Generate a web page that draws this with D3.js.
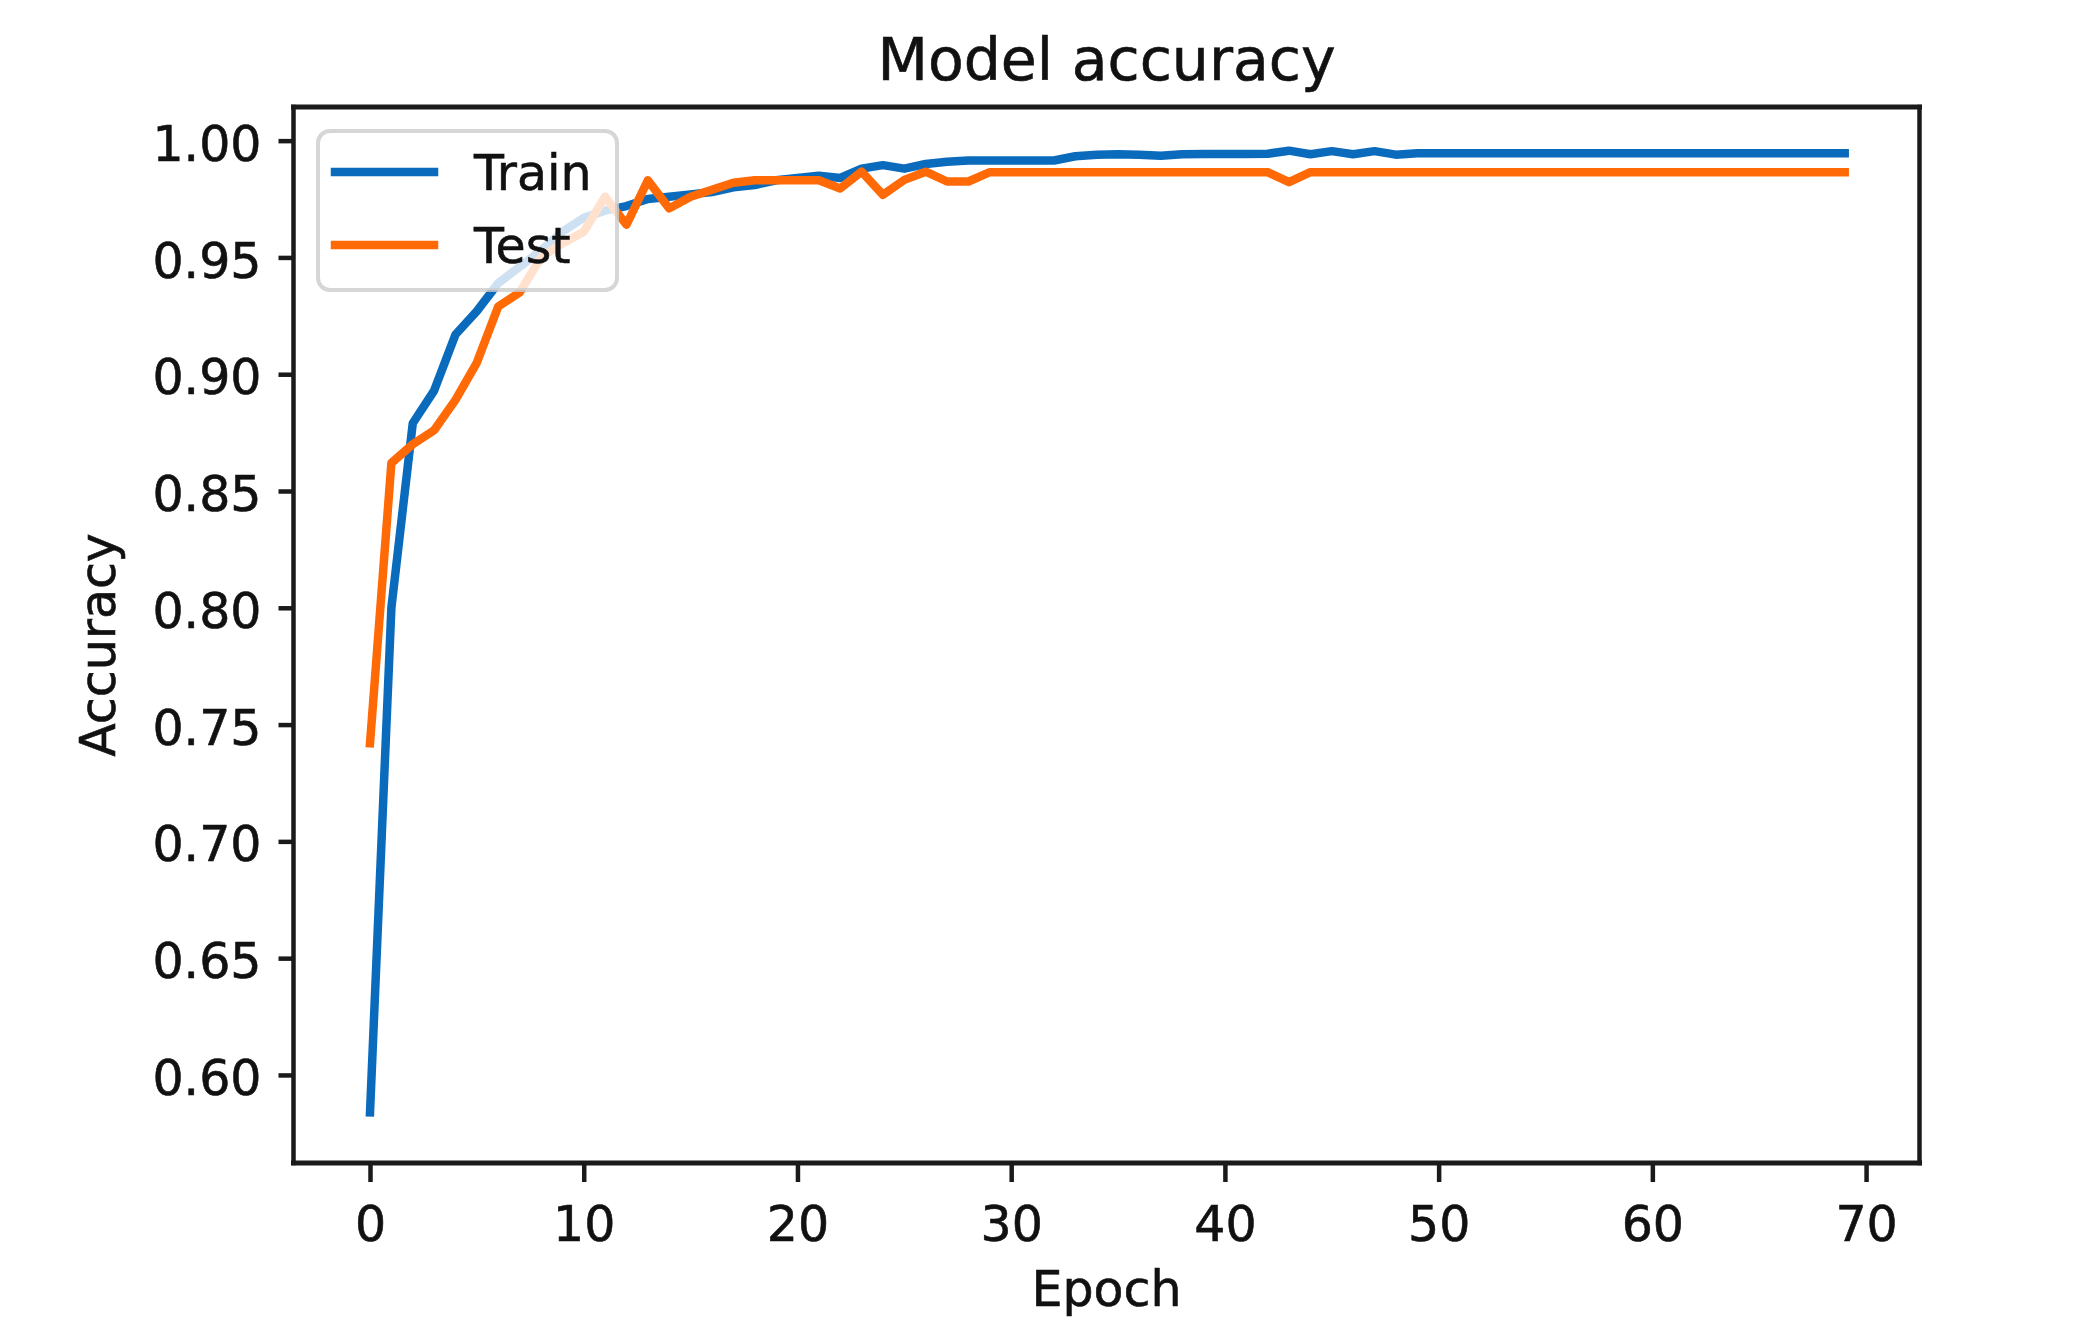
<!DOCTYPE html>
<html>
<head>
<meta charset="utf-8">
<title>Model accuracy</title>
<script src="https://cdn.jsdelivr.net/npm/d3@7"></script>
<style>
    html, body { margin: 0; padding: 0; background: #ffffff; }
    svg { display: block; }
    text { font-family: "DejaVu Sans", sans-serif; fill: #111111; stroke: #111111; stroke-width: 0.6px; }
</style>
</head>
<body>
<svg id="chart" width="2073" height="1344"></svg>
<script>
// Accuracy per epoch (epoch = array index)
const trainAcc = [
    0.584, 0.800, 0.879, 0.893, 0.917, 0.927, 0.939, 0.946, 0.953, 0.961,
    0.967, 0.970, 0.972, 0.975, 0.976, 0.977, 0.978, 0.980, 0.981, 0.983,
    0.984, 0.985, 0.984, 0.988, 0.9895, 0.988, 0.990, 0.991, 0.9915, 0.9915,
    0.9915, 0.9915, 0.9915, 0.9933, 0.9940, 0.9942, 0.9940, 0.9935, 0.9942, 0.9943,
    0.9943, 0.9943, 0.9944, 0.9957, 0.9942, 0.9955, 0.9942, 0.9955, 0.9940, 0.9946,
    0.9946, 0.9946, 0.9946, 0.9946, 0.9946, 0.9946, 0.9946, 0.9946, 0.9946, 0.9946,
    0.9946, 0.9946, 0.9946, 0.9946, 0.9946, 0.9946, 0.9946, 0.9946, 0.9946, 0.9946
];
const testAcc = [
    0.742, 0.862, 0.870, 0.876, 0.889, 0.905, 0.929, 0.935, 0.950, 0.956,
    0.961, 0.976, 0.964, 0.983, 0.971, 0.976, 0.979, 0.982, 0.983, 0.983,
    0.983, 0.983, 0.9795, 0.9867, 0.9768, 0.9832, 0.9867, 0.9825, 0.9825, 0.9865,
    0.9865, 0.9865, 0.9865, 0.9865, 0.9865, 0.9865, 0.9865, 0.9865, 0.9865, 0.9865,
    0.9865, 0.9865, 0.9865, 0.9822, 0.9865, 0.9865, 0.9865, 0.9865, 0.9865, 0.9865,
    0.9865, 0.9865, 0.9865, 0.9865, 0.9865, 0.9865, 0.9865, 0.9865, 0.9865, 0.9865,
    0.9865, 0.9865, 0.9865, 0.9865, 0.9865, 0.9865, 0.9865, 0.9865, 0.9865, 0.9865
];
const seriesNames = ['Train', 'Test'];
const xTicks = [0, 10, 20, 30, 40, 50, 60, 70];
const yTicks = [0.60, 0.65, 0.70, 0.75, 0.80, 0.85, 0.90, 0.95, 1.00];
const xDomain = [-3.58, 72.5];
const yDomain = [0.5623, 1.0144];

(function() {
    'use strict';

    const plot = { left: 293.5, right: 1919.5, top: 107, bottom: 1163 };
    const colors = { 'Train': '#0a6bbd', 'Test': '#ff6a06' };
    const fontSize = 49;

    const svg = d3.select('#chart');

    const x = d3.scaleLinear().domain(xDomain).range([plot.left, plot.right]);
    const y = d3.scaleLinear().domain(yDomain).range([plot.bottom, plot.top]);

    svg.append('defs').append('clipPath')
        .attr('id', 'plot-clip')
        .append('rect')
        .attr('x', plot.left)
        .attr('y', plot.top)
        .attr('width', plot.right - plot.left)
        .attr('height', plot.bottom - plot.top);

    // Lines
    const line = d3.line()
        .x((d, i) => x(i))
        .y(d => y(d));

    const series = [
        { name: seriesNames[0], values: trainAcc },
        { name: seriesNames[1], values: testAcc }
    ];

    svg.append('g')
        .attr('clip-path', 'url(#plot-clip)')
        .selectAll('path')
        .data(series)
        .enter()
        .append('path')
        .attr('d', d => line(d.values))
        .attr('fill', 'none')
        .attr('stroke', d => colors[d.name])
        .attr('stroke-width', 8.5)
        .attr('stroke-linejoin', 'round')
        .attr('stroke-linecap', 'square');

    // X axis
    const xAxis = svg.append('g')
        .attr('transform', `translate(0,${plot.bottom})`)
        .call(d3.axisBottom(x).tickValues(xTicks).tickSize(19).tickSizeOuter(0).tickPadding(24));
    xAxis.select('.domain').remove();
    xAxis.selectAll('.tick line').attr('stroke', '#1a1a1a').attr('stroke-width', 4.5);
    xAxis.selectAll('.tick text')
        .attr('fill', '#111111')
        .style('font-size', fontSize + 'px')
        .style('font-family', '"DejaVu Sans", sans-serif');

    // Y axis
    const yAxis = svg.append('g')
        .attr('transform', `translate(${plot.left},0)`)
        .call(d3.axisLeft(y).tickValues(yTicks).tickFormat(d3.format('.2f'))
            .tickSize(15).tickSizeOuter(0).tickPadding(17));
    yAxis.select('.domain').remove();
    yAxis.selectAll('.tick line').attr('stroke', '#1a1a1a').attr('stroke-width', 4.5);
    yAxis.selectAll('.tick text')
        .attr('fill', '#111111')
        .attr('dy', '0.4em')
        .style('font-size', fontSize + 'px')
        .style('font-family', '"DejaVu Sans", sans-serif');

    // Spines
    const spines = [
        { x1: plot.left, y1: plot.top, x2: plot.right, y2: plot.top, w: 5 },
        { x1: plot.left, y1: plot.bottom, x2: plot.right, y2: plot.bottom, w: 5 },
        { x1: plot.left, y1: plot.top, x2: plot.left, y2: plot.bottom, w: 4.5 },
        { x1: plot.right, y1: plot.top, x2: plot.right, y2: plot.bottom, w: 4.5 }
    ];
    svg.append('g').selectAll('line')
        .data(spines)
        .enter()
        .append('line')
        .attr('x1', d => d.x1).attr('y1', d => d.y1)
        .attr('x2', d => d.x2).attr('y2', d => d.y2)
        .attr('stroke', '#1a1a1a')
        .attr('stroke-width', d => d.w)
        .attr('stroke-linecap', 'square');

    // Title and axis labels
    svg.append('text')
        .attr('x', (plot.left + plot.right) / 2)
        .attr('y', 80)
        .attr('text-anchor', 'middle')
        .style('font-size', '58.5px')
        .text('Model accuracy');

    svg.append('text')
        .attr('x', (plot.left + plot.right) / 2)
        .attr('y', 1306)
        .attr('text-anchor', 'middle')
        .style('font-size', fontSize + 'px')
        .text('Epoch');

    svg.append('text')
        .attr('transform', 'translate(115,645) rotate(-90)')
        .attr('text-anchor', 'middle')
        .style('font-size', fontSize + 'px')
        .text('Accuracy');

    // Legend (upper left, semi-transparent frame)
    const legend = svg.append('g').attr('class', 'legend');
    legend.append('rect')
        .attr('x', 318)
        .attr('y', 131)
        .attr('width', 299)
        .attr('height', 159)
        .attr('rx', 12)
        .attr('fill', '#ffffff')
        .attr('fill-opacity', 0.8)
        .attr('stroke', '#cccccc')
        .attr('stroke-opacity', 0.8)
        .attr('stroke-width', 4);

    const rowY = d3.scalePoint().domain(seriesNames).range([172, 245]);

    legend.selectAll('.legend-line')
        .data(seriesNames)
        .enter()
        .append('line')
        .attr('class', 'legend-line')
        .attr('x1', 335)
        .attr('x2', 434)
        .attr('y1', d => rowY(d))
        .attr('y2', d => rowY(d))
        .attr('stroke', d => colors[d])
        .attr('stroke-width', 8.5)
        .attr('stroke-linecap', 'square');

    legend.selectAll('.legend-label')
        .data(seriesNames)
        .enter()
        .append('text')
        .attr('class', 'legend-label')
        .attr('x', 474)
        .attr('y', d => rowY(d))
        .attr('dy', '0.37em')
        .style('font-size', fontSize + 'px')
        .text(d => d);
})();
</script>
</body>
</html>
